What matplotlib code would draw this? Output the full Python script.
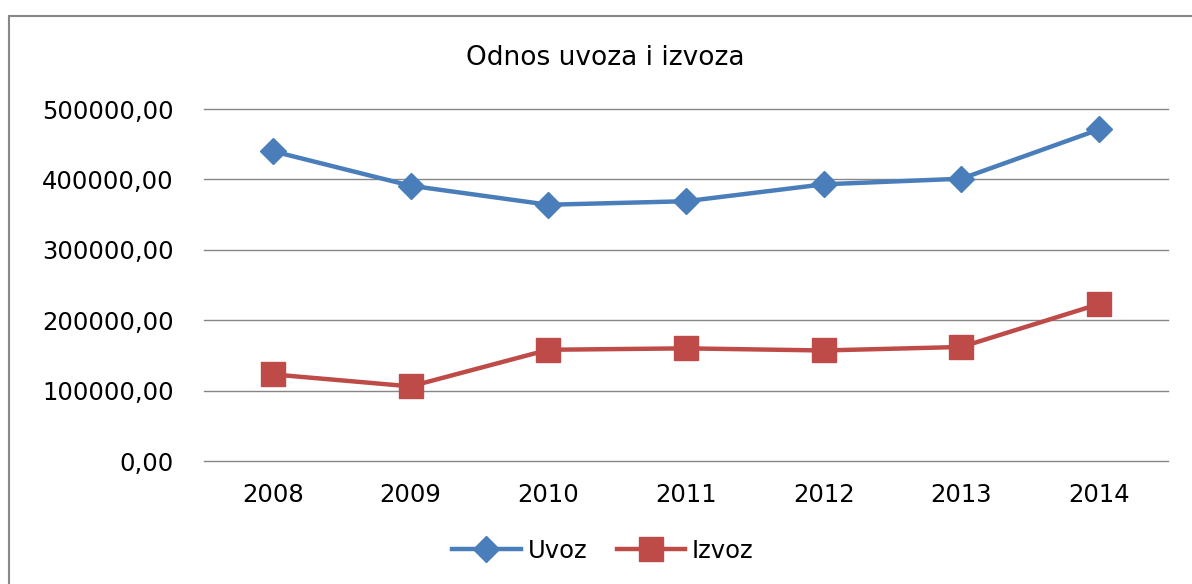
import matplotlib
matplotlib.use("Agg")
import matplotlib.pyplot as plt
from matplotlib.patches import Rectangle

years = ["2008", "2009", "2010", "2011", "2012", "2013", "2014"]
uvoz = [440000, 391000, 364000, 369000, 393000, 401000, 471000]
izvoz = [123000, 106000, 158000, 160000, 157000, 162000, 223000]
yticks = [0, 100000, 200000, 300000, 400000, 500000]

blue = "#4A7EBB"
red = "#BE4B48"
plt.rcParams["font.family"] = ["DejaVu Sans"]

fig = plt.figure(figsize=(11.92, 5.84), dpi=100)
ax = fig.add_axes([204 / 1192, 123 / 584, 964 / 1192, 352 / 584])

x = range(len(years))
ax.plot(x, uvoz, color=blue, lw=3.2, marker="D", ms=13, label="Uvoz")
ax.plot(x, izvoz, color=red, lw=3.2, marker="s", ms=17, label="Izvoz")

ax.set_xlim(-0.5, len(years) - 0.5)
ax.set_ylim(0, 500000)
ax.set_yticks(yticks)
ax.set_yticklabels([f"{v},00" for v in yticks], fontsize=17.5)
ax.set_xticks(list(x))
ax.set_xticklabels(years, fontsize=17.5)
ax.tick_params(axis="x", length=0, pad=16)
ax.tick_params(axis="y", length=0, pad=22)
ax.grid(axis="y", color="#868686", lw=1)
for gl in ax.yaxis.get_gridlines():
    gl.set_clip_on(False)
ax.set_axisbelow(True)
for s in ax.spines.values():
    s.set_visible(False)

fig.text(605 / 1192, 1 - 58 / 584, "Odnos uvoza i izvoza", ha="center", va="center", fontsize=19)

fig.legend(loc="center", bbox_to_anchor=(603 / 1192, 1 - 551 / 584), ncol=2, frameon=False,
           fontsize=17.5, handlelength=2.8, columnspacing=1.2, handletextpad=0.3)

fig.patches.append(Rectangle((9 / 1192, -0.1), 1.2, 1.1 - 16 / 584, transform=fig.transFigure,
                             fill=False, edgecolor="#888888", lw=1.5))

fig.savefig("out.png", dpi=100)
